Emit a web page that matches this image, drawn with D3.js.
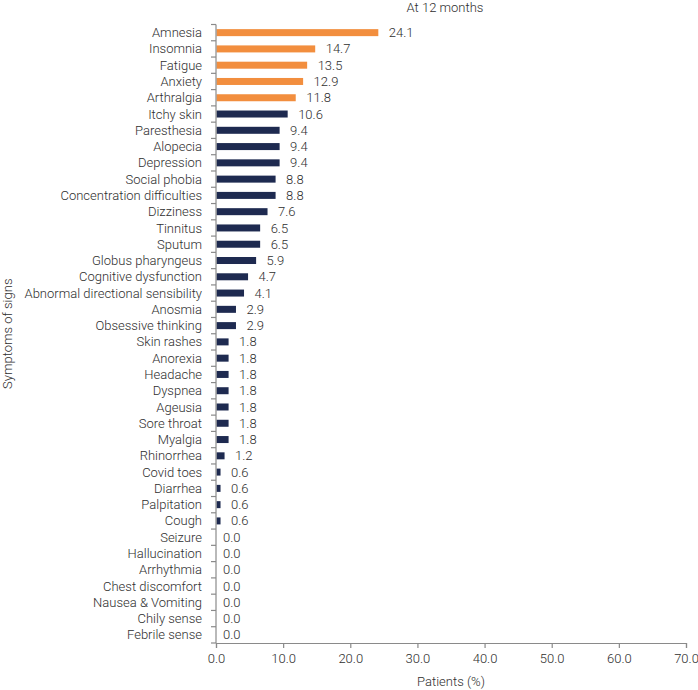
<!DOCTYPE html>
<html><head><meta charset="utf-8">
<script src="https://cdn.jsdelivr.net/npm/d3@7"></script>
<style>
html,body{margin:0;padding:0;background:#fff;}
svg text{font-family:Roboto,"Noto Sans",sans-serif;font-weight:300;fill:#2e2e2e;}
</style></head>
<body><svg id="c" width="698" height="690"></svg>
<script>
const categories = ["Amnesia","Insomnia","Fatigue","Anxiety","Arthralgia","Itchy skin","Paresthesia","Alopecia","Depression","Social phobia","Concentration difficulties","Dizziness","Tinnitus","Sputum","Globus pharyngeus","Cognitive dysfunction","Abnormal directional sensibility","Anosmia","Obsessive thinking","Skin rashes","Anorexia","Headache","Dyspnea","Ageusia","Sore throat","Myalgia","Rhinorrhea","Covid toes","Diarrhea","Palpitation","Cough","Seizure","Hallucination","Arrhythmia","Chest discomfort","Nausea & Vomiting","Chily sense","Febrile sense"];
const values = [24.1,14.7,13.5,12.9,11.8,10.6,9.4,9.4,9.4,8.8,8.8,7.6,6.5,6.5,5.9,4.7,4.1,2.9,2.9,1.8,1.8,1.8,1.8,1.8,1.8,1.8,1.2,0.6,0.6,0.6,0.6,0,0,0,0,0,0,0];
const highlightCount = 5;
const xTicks = [0,10,20,30,40,50,60,70];
const title = "At 12 months";
const xTitle = "Patients (%)";
const yTitle = "Symptoms of signs";

const svg = d3.select("#c");
const m = {left:216, right:12, top:24.5, bottom:47};
const W = 698, H = 690;
const FS = 13;
const x = d3.scaleLinear().domain([0,70]).range([m.left, W - m.right]);
const y = d3.scaleBand().domain(categories).range([m.top, H - m.bottom]).paddingInner(0.6).paddingOuter(0.3);

// bars
svg.append("g").selectAll("rect").data(categories).join("rect")
  .attr("x", x(0)+0.5)
  .attr("y", d => y(d) + y.bandwidth()/2 - 3.5)
  .attr("width", (d,i) => Math.max(0, x(values[i]) - x(0)))
  .attr("height", 7)
  .attr("fill", (d,i) => i < highlightCount ? "#F28E3E" : "#1E2A50");

// value labels
svg.append("g").selectAll("text").data(categories).join("text")
  .attr("x", (d,i) => x(values[i]) + (values[i] > 0 ? 11 : 7))
  .attr("y", d => y(d) + y.bandwidth()/2)
  .attr("dy", "0.35em")
  .attr("font-size", FS)
  .text((d,i) => values[i].toFixed(1));

// y axis line and band-boundary ticks
const gy = svg.append("g");
gy.append("line").attr("x1", x(0)).attr("x2", x(0)).attr("y1", m.top).attr("y2", H - m.bottom)
  .attr("stroke", "#8a8a8a").attr("stroke-width", 1.2);
const bounds = d3.range(categories.length + 1).map(i => m.top + i * (H - m.bottom - m.top) / categories.length);
gy.selectAll("line.t").data(bounds).join("line").attr("class","t")
  .attr("x1", x(0) - 5).attr("x2", x(0)).attr("y1", d => d).attr("y2", d => d)
  .attr("stroke", "#8a8a8a").attr("stroke-width", 1.2);
gy.selectAll("text").data(categories).join("text")
  .attr("x", x(0) - 14)
  .attr("y", d => y(d) + y.bandwidth()/2)
  .attr("dy", "0.35em")
  .attr("text-anchor", "end")
  .attr("font-size", FS)
  .text(d => d);

// x axis
const gx = svg.append("g").attr("transform", `translate(0,${H - m.bottom})`);
gx.call(d3.axisBottom(x).tickValues(xTicks).tickFormat(d3.format(".1f")).tickSize(5).tickPadding(6));
gx.select(".domain").attr("stroke", "#8a8a8a").attr("stroke-width", 1.2);
gx.selectAll(".tick line").attr("stroke", "#8a8a8a").attr("stroke-width", 1.2);
gx.selectAll(".tick text").attr("font-size", FS).attr("font-family", null).style("fill", "#2e2e2e");

// titles
svg.append("text").attr("x", 445).attr("y", 12).attr("text-anchor", "middle").attr("font-size", FS).text(title);
svg.append("text").attr("x", (x(0) + x(70)) / 2).attr("y", 686).attr("text-anchor", "middle").attr("font-size", FS).text(xTitle);
svg.append("text").attr("transform", `translate(12,${(m.top + H - m.bottom)/2}) rotate(-90)`).attr("text-anchor", "middle").attr("font-size", FS).text(yTitle);
</script></body></html>
